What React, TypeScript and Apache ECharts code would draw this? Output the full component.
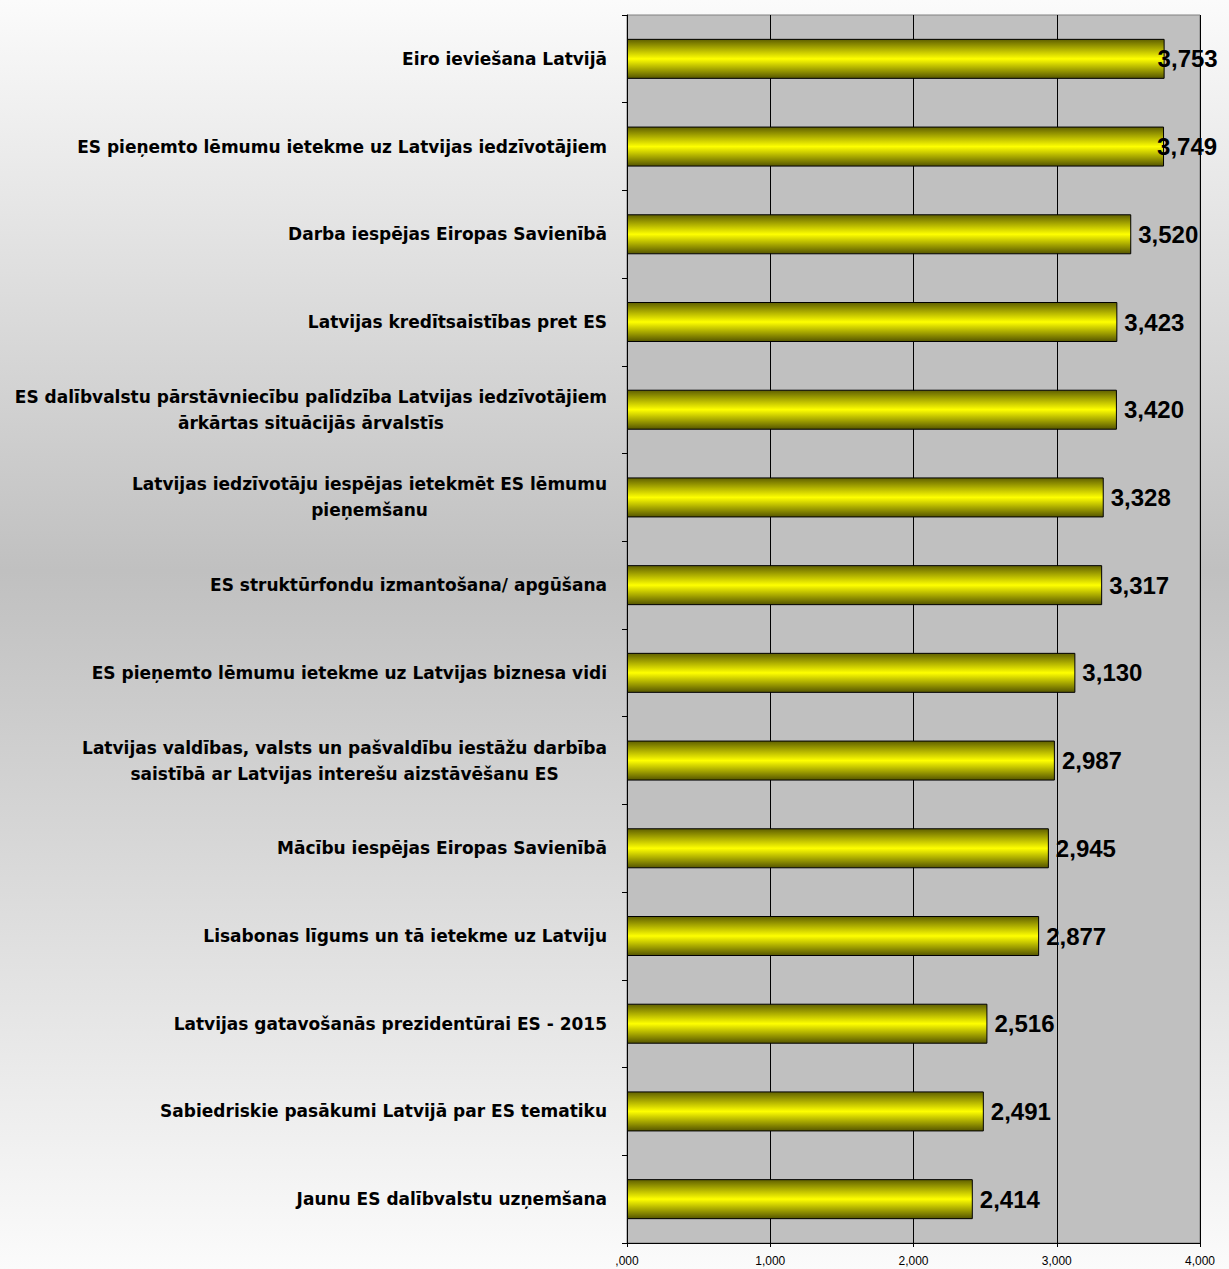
import React, { useEffect, useRef } from "react";
import * as echarts from "echarts";

const categories: string[] = [
  "Eiro ieviešana Latvijā",
  "ES pieņemto lēmumu ietekme uz Latvijas iedzīvotājiem",
  "Darba iespējas Eiropas Savienībā",
  "Latvijas kredītsaistības pret ES",
  "ES dalībvalstu pārstāvniecību palīdzība Latvijas iedzīvotājiem\nārkārtas situācijās ārvalstīs",
  "Latvijas iedzīvotāju iespējas ietekmēt ES lēmumu\npieņemšanu",
  "ES struktūrfondu izmantošana/ apgūšana",
  "ES pieņemto lēmumu ietekme uz Latvijas biznesa vidi",
  "Latvijas valdības, valsts un pašvaldību iestāžu darbība\nsaistībā ar Latvijas interešu aizstāvēšanu ES",
  "Mācību iespējas Eiropas Savienībā",
  "Lisabonas līgums un tā ietekme uz Latviju",
  "Latvijas gatavošanās prezidentūrai ES - 2015",
  "Sabiedriskie pasākumi Latvijā par ES tematiku",
  "Jaunu ES dalībvalstu uzņemšana",
];

const values: number[] = [
  3.753, 3.749, 3.52, 3.423, 3.42, 3.328, 3.317, 3.13, 2.987, 2.945, 2.877,
  2.516, 2.491, 2.414,
];

const axisMin = 0;
const axisMax = 4;
const axisInterval = 1;

const fmt = (v: number) => {
  const s = v.toFixed(3).replace(".", ",");
  return s.startsWith("0,") ? s.slice(1) : s;
};

export default function App() {
  const ref = useRef<HTMLDivElement>(null);
  useEffect(() => {
    if (!ref.current) return;
    const chart = echarts.init(ref.current, null, { renderer: "svg" });
    const barGradient = new echarts.graphic.LinearGradient(0, 0, 0, 1, [
      { offset: 0, color: "#606000" },
      { offset: 0.5, color: "#ffff00" },
      { offset: 1, color: "#555500" },
    ]);
    chart.setOption({
      animation: false,
      backgroundColor: {
        type: "linear",
        x: 0,
        y: 0,
        x2: 0,
        y2: 1,
        colorStops: [
          { offset: 0, color: "#fbfbfb" },
          { offset: 0.45, color: "#c0c0c0" },
          { offset: 1, color: "#fbfbfb" },
        ],
      },
      grid: {
        left: 627,
        right: 29,
        top: 15,
        bottom: 26,
        show: true,
        backgroundColor: "#c0c0c0",
        borderColor: "#808080",
        borderWidth: 1,
      },
      xAxis: {
        type: "value",
        min: axisMin,
        max: axisMax,
        interval: axisInterval,
        axisLine: { show: true, lineStyle: { color: "#000", width: 1 } },
        axisTick: { show: true, length: 4, lineStyle: { color: "#000" } },
        axisLabel: {
          formatter: (v: number) => fmt(v),
          fontFamily: "Liberation Sans, Arial, sans-serif",
          fontSize: 12,
          color: "#000",
          margin: 12,
        },
        splitLine: { show: true, lineStyle: { color: "#000", width: 1 } },
      },
      yAxis: {
        type: "category",
        data: categories,
        inverse: true,
        axisLine: { show: true, lineStyle: { color: "#000", width: 1 } },
        axisTick: { show: true, length: 5, inside: false, lineStyle: { color: "#000" } },
        axisLabel: {
          margin: 20,
          interval: 0,
          formatter: (v: string) =>
            v
              .split("\n")
              .map((l) => "{c|" + l + "}")
              .join("\n"),
          rich: {
            c: {
              align: "center",
              fontFamily: "DejaVu Sans, sans-serif",
              fontWeight: "bold",
              fontSize: 17,
              lineHeight: 26,
              color: "#000",
            },
          },
        },
      },
      series: [
        {
          type: "bar",
          barWidth: 40,
          data: values.map((v) => ({
            value: v,
            label: v > 3.7 ? { offset: [-14, 0] } : undefined,
          })),
          itemStyle: { color: barGradient, borderColor: "#000", borderWidth: 1 },
          label: {
            show: true,
            position: "right",
            distance: 7,
            formatter: (p: any) => fmt(p.value),
            fontFamily: "Liberation Sans, Arial, sans-serif",
            fontWeight: "bold",
            fontSize: 24,
            color: "#000",
          },
        },
      ],
    });
    return () => chart.dispose();
  }, []);
  return (
    <div
      ref={ref}
      style={{ position: "fixed", left: 0, top: 0, width: 1229, height: 1269 }}
    />
  );
}
